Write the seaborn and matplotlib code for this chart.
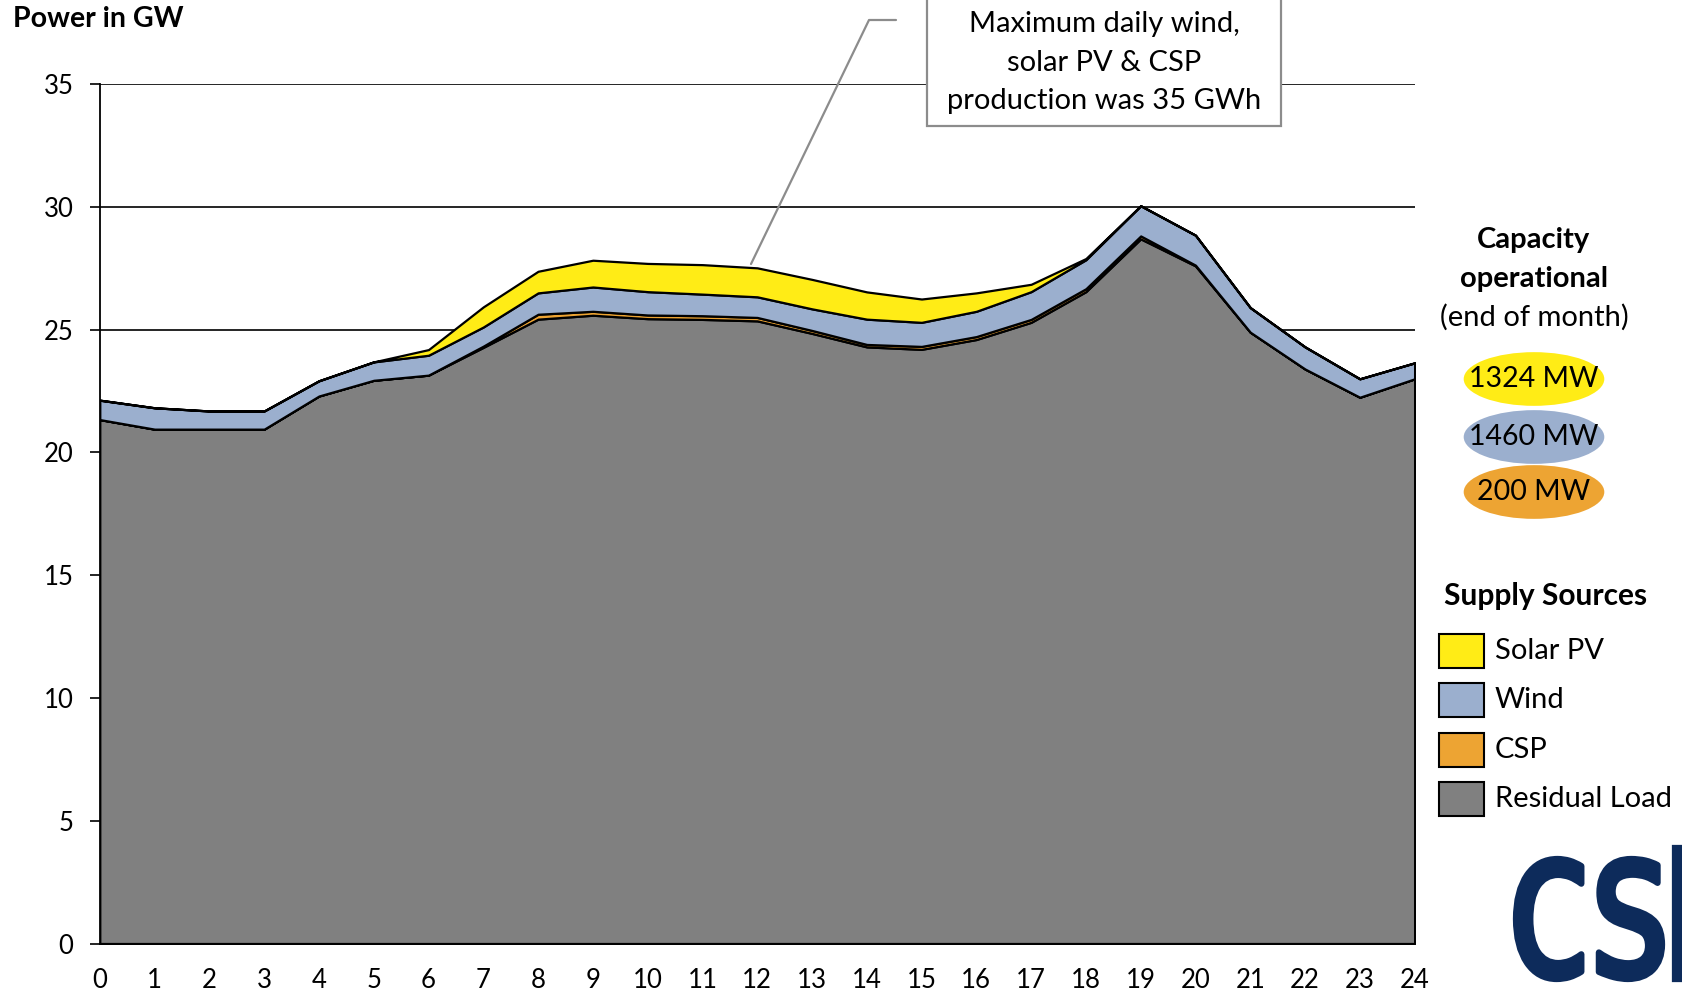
import pandas as pd
import seaborn as sns
import matplotlib.pyplot as plt
from matplotlib.patches import Rectangle, Ellipse, PathPatch
from matplotlib.lines import Line2D
from matplotlib.textpath import TextPath
from matplotlib.font_manager import FontProperties
from matplotlib.transforms import Affine2D

# -----------------------
# Data (GW per hour, stacked layers)
# -----------------------
hours = list(range(25))
residual = [21.34, 20.95, 20.95, 20.95, 22.30, 22.94, 23.15, 24.28, 25.43, 25.59,
            25.45, 25.42, 25.36, 24.85, 24.30, 24.20, 24.60, 25.30, 26.55, 28.70,
            27.60, 24.90, 23.40, 22.25, 23.00]
csp = [0, 0, 0, 0, 0, 0, 0, 0.05, 0.20, 0.16,
       0.15, 0.15, 0.14, 0.12, 0.10, 0.12, 0.12, 0.12, 0.12, 0.12,
       0.03, 0, 0, 0, 0]
wind = [0.79, 0.87, 0.74, 0.74, 0.62, 0.75, 0.81, 0.78, 0.87, 0.99,
        0.95, 0.88, 0.84, 0.88, 1.03, 0.98, 1.03, 1.13, 1.18, 1.23,
        1.22, 1.00, 0.90, 0.75, 0.65]
solar = [0, 0, 0, 0, 0, 0, 0.23, 0.82, 0.88, 1.09,
         1.15, 1.20, 1.18, 1.20, 1.11, 0.95, 0.75, 0.30, 0.05, 0,
         0, 0, 0, 0, 0]

series_names = ["Residual Load", "CSP", "Wind", "Solar PV"]
series_colors = ["#808080", "#EDA433", "#9BAFCE", "#FFEC16"]
legend_order = ["Solar PV", "Wind", "CSP", "Residual Load"]
capacity_labels = ["1324 MW", "1460 MW", "200 MW"]
capacity_colors = ["#FFEC16", "#9BAFCE", "#EDA433"]
yticks = [0, 5, 10, 15, 20, 25, 30, 35]
note_lines = ["Maximum daily wind,", "solar PV & CSP", "production was 35 GWh"]

df = pd.DataFrame({"hour": hours, "Residual Load": residual, "CSP": csp,
                   "Wind": wind, "Solar PV": solar})

# -----------------------
# Setup
# -----------------------
sns.set_theme(style="white")
plt.rcParams["font.family"] = ["Lato", "DejaVu Sans"]
plt.rcParams["text.color"] = "black"

W, H = 1683, 994
fig = plt.figure(figsize=(W / 100, H / 100), dpi=100)
px = lambda x: x / W
py = lambda y: 1 - y / H
ax = fig.add_axes([px(99.8), py(943.5), px(1414.6) - px(99.8), py(83.7) - py(943.5)])

# -----------------------
# Stacked areas
# -----------------------
ax.stackplot(df["hour"], *[df[n] for n in series_names], colors=series_colors,
             edgecolor="black", linewidth=1.6, zorder=2)

ax.set_xlim(0, 24)
ax.set_ylim(0, 35.02)
ax.set_xticks(hours)
ax.set_yticks(yticks)
ax.yaxis.grid(True, color="black", linewidth=1.2)
ax.set_axisbelow(True)
ax.tick_params(axis="y", left=True, length=7, width=1.2, color="black",
               direction="out", pad=12, labelsize=18.5, labelcolor="black")
ax.tick_params(axis="x", length=0, pad=18, labelsize=18.5, labelcolor="black")
sns.despine(ax=ax)
for s in ["left", "bottom"]:
    ax.spines[s].set_color("black")
    ax.spines[s].set_linewidth(1.3)

fig.text(px(13), py(19), "Power in GW", fontsize=20.5, fontweight="bold",
         ha="left", va="center")

# -----------------------
# Annotation box
# -----------------------
fig.add_artist(Line2D([px(896), px(869), px(751)], [py(20), py(20), py(264)],
                      color="#8C8C8C", linewidth=1.6, transform=fig.transFigure))
fig.add_artist(Rectangle((px(927), py(125.6)), px(1281) - px(927), py(-5) - py(125.6),
                         facecolor="white", edgecolor="#8C8C8C", linewidth=1.6,
                         transform=fig.transFigure, zorder=3))
for i, line in enumerate(note_lines):
    fig.text(px(1104), py(24 + 38.6 * i), line, fontsize=21, ha="center",
             va="center", zorder=4)

# -----------------------
# Capacity panel
# -----------------------
fig.text(px(1534), py(240), "Capacity", fontsize=21, fontweight="bold", ha="center", va="center")
fig.text(px(1534), py(279), "operational", fontsize=21, fontweight="bold", ha="center", va="center")
fig.text(px(1534), py(317), "(end of month)", fontsize=21, ha="center", va="center")
for i, (lab, col) in enumerate(zip(capacity_labels, capacity_colors)):
    cy = [379, 437, 492][i]
    fig.add_artist(Ellipse((px(1534), py(cy)), px(140.6), 53.7 / H, facecolor=col,
                           edgecolor="none", transform=fig.transFigure))
    fig.text(px(1534), py(cy), lab, fontsize=20.5, ha="center", va="center")

# -----------------------
# Legend
# -----------------------
fig.text(px(1444), py(596), "Supply Sources", fontsize=21.5, fontweight="bold",
         ha="left", va="center")
for i, name in enumerate(legend_order):
    col = series_colors[series_names.index(name)]
    top = 634 + 49.3 * i
    fig.add_artist(Rectangle((px(1439), py(top + 34)), px(45), 34 / H, facecolor=col,
                             edgecolor="black", linewidth=1.5, transform=fig.transFigure))
    fig.text(px(1495), py(top + 17), name, fontsize=21, ha="left", va="center")

# -----------------------
# Logo (cut off at right edge)
# -----------------------
fp = FontProperties(family="DejaVu Sans")
ext = TextPath((0, 0), "cs", size=100, prop=fp).get_extents()
a = 146 / (ext.x1 - ext.x0)
b = 120 / (ext.y1 - ext.y0)
tr = (Affine2D().translate(-ext.x0, -ext.y0).scale(a, b)
      .translate(1516, H - 979).scale(1 / W, 1 / H) + fig.transFigure)
fig.add_artist(PathPatch(TextPath((0, 0), "cs", size=100, prop=fp), facecolor="#0D2B5B",
                         edgecolor="#0D2B5B", linewidth=4.5, joinstyle="round", transform=tr))
ipath = TextPath((0, 0), "\u0131", size=100, prop=fp)
iext = ipath.get_extents()
bi = 134 / (iext.y1 - iext.y0)
tr_i = (Affine2D().translate(-iext.x0, -iext.y0).scale(a * 1.3, bi)
        .translate(1675, H - 979).scale(1 / W, 1 / H) + fig.transFigure)
fig.add_artist(PathPatch(ipath, facecolor="#0D2B5B", edgecolor="#0D2B5B",
                         linewidth=4.5, transform=tr_i))

fig.savefig("out.png", dpi=100)
